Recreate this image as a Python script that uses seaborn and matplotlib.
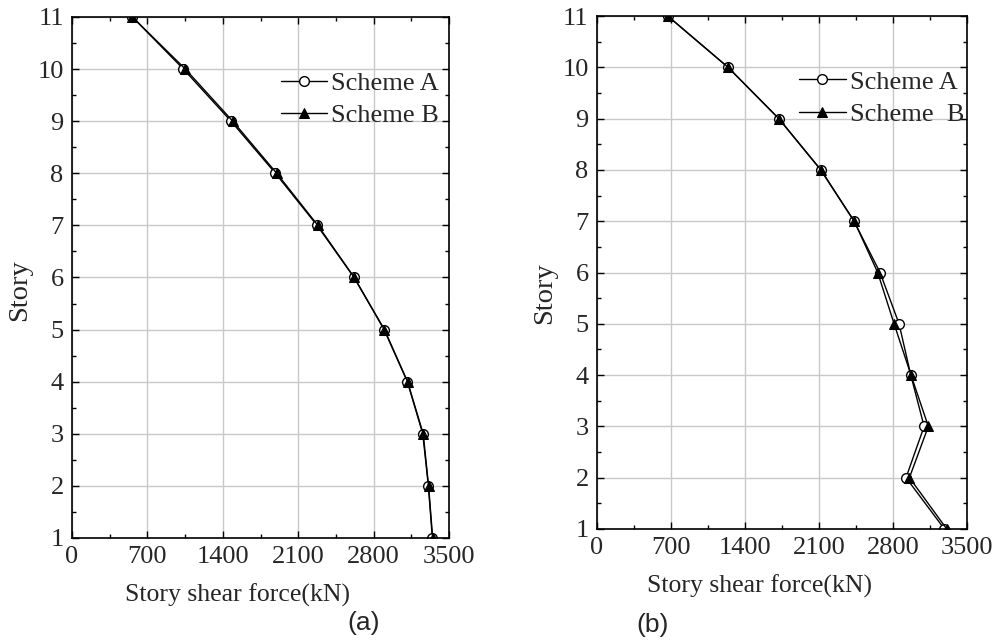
import numpy as np
import pandas as pd
import matplotlib
matplotlib.use("Agg")
import matplotlib.pyplot as plt
from matplotlib.ticker import MultipleLocator
import seaborn as sns

# story numbers (same for both panels)
stories = [11, 10, 9, 8, 7, 6, 5, 4, 3, 2, 1]

# panel (a) story shear force, kN
a_scheme_a = [560, 1034, 1476, 1888, 2275, 2618, 2897, 3113, 3256, 3308, 3345]
a_scheme_b = [560, 1052, 1492, 1900, 2282, 2620, 2900, 3115, 3260, 3310, 3348]

# panel (b) story shear force, kN
b_scheme_a = [669, 1239, 1719, 2116, 2431, 2677, 2857, 2968, 3094, 2923, 3286]
b_scheme_b = [669, 1240, 1720, 2118, 2433, 2655, 2810, 2970, 3134, 2955, 3308]

xticks = [0, 700, 1400, 2100, 2800, 3500]
yticks = list(range(1, 12))

sns.set_style("ticks")
plt.rcParams['font.family'] = ['Liberation Serif', 'DejaVu Serif']

fig = plt.figure(figsize=(9.95, 6.43), dpi=100)
ax1 = fig.add_axes([0.0724, 0.1633, 0.3789, 0.8103])
ax2 = fig.add_axes([0.600, 0.1773, 0.3719, 0.7978])

FS = 19


def draw_panel(ax, vals_a, vals_b, label_b, leg_anchor, ylab_y):
    df = pd.DataFrame({'story': stories, 'A': vals_a, 'B': vals_b})
    sns.lineplot(data=df, x='A', y='story', orient='y', ax=ax, color='black',
                 lw=1.0, marker='o', ms=7, mfc='white', mec='black', mew=1.0,
                 label='Scheme A')
    sns.lineplot(data=df, x='B', y='story', orient='y', ax=ax, color='black',
                 lw=1.0, marker='^', ms=7.5, mfc='black', mec='black',
                 label=label_b)
    ax.set_xlim(0, 3500)
    ax.set_ylim(1, 11)
    ax.set_xticks(xticks)
    ax.set_yticks(yticks)
    ax.xaxis.set_minor_locator(MultipleLocator(350))
    ax.yaxis.set_minor_locator(MultipleLocator(0.5))
    ax.grid(True, which='major', color='#c8c8c8', lw=1.0)
    ax.set_axisbelow(True)
    ax.tick_params(which='both', direction='in', top=True, right=True,
                   labelsize=FS, width=1.0, color='black')
    ax.tick_params(which='major', length=5, pad=6)
    ax.tick_params(which='minor', length=3)
    for s in ax.spines.values():
        s.set_linewidth(1.2)
        s.set_color('black')
    ax.set_xlabel('Story shear force(kN)', fontsize=18.5, labelpad=11, x=0.44)
    ax.set_ylabel('Story', fontsize=20.5, labelpad=4, y=ylab_y)
    ax.legend(loc='upper right', bbox_to_anchor=leg_anchor, frameon=False,
              fontsize=FS, handlelength=1.75, handletextpad=0.15,
              labelspacing=0.33, borderaxespad=0)


draw_panel(ax1, a_scheme_a, a_scheme_b, 'Scheme B', (1.0, 0.915), 0.476)
draw_panel(ax2, b_scheme_a, b_scheme_b, 'Scheme  B', (1.02, 0.915), 0.46)

fig.text(364 / 995, 1 - 623 / 643, '(a)', ha='center', va='center',
         fontsize=19, family='Liberation Sans')
fig.text(653 / 995, 1 - 625 / 643, '(b)', ha='center', va='center',
         fontsize=19, family='Liberation Sans')

fig.savefig('out.png', dpi=100)
